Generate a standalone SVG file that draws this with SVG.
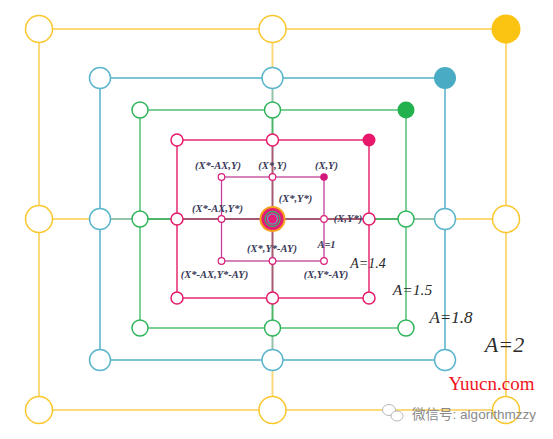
<svg xmlns="http://www.w3.org/2000/svg" width="553" height="439" viewBox="0 0 553 439">
<style>
.ye{stroke:#FDD97E;stroke-width:2;fill:none}
.bl{stroke:#5DB6CC;stroke-width:1.6;fill:none}
.gr{stroke:#7DCF98;stroke-width:2;fill:none}
.pk{stroke:#E8387A;stroke-width:1.6;fill:none}
.in{stroke:#C4409A;stroke-width:1.3;fill:none}
.br{stroke:#A65A72;stroke-width:2;fill:none}
.bg{stroke:#93C3A8;stroke-width:2;fill:none}
.gs{stroke:#4DB56A;stroke-width:2;fill:none}
.nY{fill:#fff;stroke:#F9C62C;stroke-width:1.5}
.nYf{fill:#FBC312}
.nB{fill:#fff;stroke:#5BB5CB;stroke-width:1.5}
.nBf{fill:#4AACC4}
.nG{fill:#fff;stroke:#2FB45A;stroke-width:1.5}
.nGf{fill:#22B14C}
.nP{fill:#fff;stroke:#E6196A;stroke-width:1.5}
.nPf{fill:#E8186A}
.nI{fill:#fff;stroke:#D81E78;stroke-width:1.2}
.nIf{fill:#D4187A}
.lb{font-family:"Liberation Serif",serif;font-style:italic;font-weight:bold;font-size:10.5px;fill:#3A3A58;text-anchor:middle}
.al{font-family:"Liberation Serif",serif;font-style:italic;fill:#2A2A2A;text-anchor:middle}
.ic{fill:#fff;stroke:#B8B8B8;stroke-width:1}
</style>
<g id="connectors">
<rect class="ye" x="39" y="29" width="467" height="381"/>
<rect class="bl" x="100" y="78" width="345" height="282"/>
<rect class="gr" x="140" y="110" width="266" height="218"/>
<rect class="pk" x="177" y="140" width="192" height="158"/>
<rect class="in" x="221.5" y="177" width="102.5" height="84"/>
<line class="ye" x1="272.5" y1="29" x2="272.5" y2="78"/>
<line class="bg" x1="272.5" y1="78" x2="272.5" y2="110"/>
<line class="gs" x1="272.5" y1="110" x2="272.5" y2="140"/>
<line class="br" x1="272.5" y1="140" x2="272.5" y2="298"/>
<line class="gs" x1="272.5" y1="298" x2="272.5" y2="328"/>
<line class="bg" x1="272.5" y1="328" x2="272.5" y2="360"/>
<line class="ye" x1="272.5" y1="360" x2="272.5" y2="410"/>
<line class="ye" x1="39" y1="219" x2="100" y2="219"/>
<line class="bg" x1="100" y1="219" x2="140" y2="219"/>
<line class="gs" x1="140" y1="219" x2="177" y2="219"/>
<line class="br" x1="177" y1="219" x2="369" y2="219"/>
<line class="gs" x1="369" y1="219" x2="406" y2="219"/>
<line class="bg" x1="406" y1="219" x2="445" y2="219"/>
<line class="ye" x1="445" y1="219" x2="506" y2="219"/>
</g>
<g id="yellow-nodes">
<circle id="y1" class="nY" cx="39" cy="29" r="13.5"/>
<circle id="y2" class="nY" cx="272.5" cy="29" r="13.5"/>
<circle id="y3" class="nYf" cx="506" cy="29" r="14.5"/>
<circle id="y4" class="nY" cx="39" cy="219" r="13.5"/>
<circle id="y5" class="nY" cx="506" cy="219" r="13.5"/>
<circle id="y6" class="nY" cx="39" cy="410" r="13.5"/>
<circle id="y7" class="nY" cx="272.5" cy="410" r="13.5"/>
<circle id="y8" class="nY" cx="506" cy="410" r="13.5"/>
</g>
<g id="blue-nodes">
<circle id="b1" class="nB" cx="100" cy="78" r="10.5"/>
<circle id="b2" class="nB" cx="272.5" cy="78" r="10.5"/>
<circle id="b3" class="nBf" cx="445" cy="78" r="11"/>
<circle id="b4" class="nB" cx="100" cy="219" r="10.5"/>
<circle id="b5" class="nB" cx="445" cy="219" r="10.5"/>
<circle id="b6" class="nB" cx="100" cy="360" r="10.5"/>
<circle id="b7" class="nB" cx="272.5" cy="360" r="10.5"/>
<circle id="b8" class="nB" cx="445" cy="360" r="10.5"/>
</g>
<g id="green-nodes">
<circle id="g1" class="nG" cx="140" cy="110" r="8"/>
<circle id="g2" class="nG" cx="272.5" cy="110" r="8"/>
<circle id="g3" class="nGf" cx="406" cy="110" r="8.5"/>
<circle id="g4" class="nG" cx="140" cy="219" r="8"/>
<circle id="g5" class="nG" cx="406" cy="219" r="8"/>
<circle id="g6" class="nG" cx="140" cy="328" r="8"/>
<circle id="g7" class="nG" cx="272.5" cy="328" r="8"/>
<circle id="g8" class="nG" cx="406" cy="328" r="8"/>
</g>
<g id="pink-nodes">
<circle id="p1" class="nP" cx="177" cy="140" r="6"/>
<circle id="p2" class="nP" cx="272.5" cy="140" r="6"/>
<circle id="p3" class="nPf" cx="369" cy="140" r="6.5"/>
<circle id="p4" class="nP" cx="177" cy="219" r="6"/>
<circle id="p5" class="nP" cx="369" cy="219" r="6"/>
<circle id="p6" class="nP" cx="177" cy="298" r="6"/>
<circle id="p7" class="nP" cx="272.5" cy="298" r="6"/>
<circle id="p8" class="nP" cx="369" cy="298" r="6"/>
</g>
<g id="inner-nodes">
<circle id="i1" class="nI" cx="221.5" cy="177" r="3.3"/>
<circle id="i2" class="nI" cx="272.5" cy="177" r="3.3"/>
<circle id="i3" class="nIf" cx="324" cy="177" r="3.8"/>
<circle id="i4" class="nI" cx="221.5" cy="219" r="3.3"/>
<circle id="i5" class="nI" cx="324" cy="219" r="3.3"/>
<circle id="i6" class="nI" cx="221.5" cy="261" r="3.3"/>
<circle id="i7" class="nI" cx="272.5" cy="261" r="3.3"/>
<circle id="i8" class="nI" cx="324" cy="261" r="3.3"/>
</g>
<g id="center-node">
<circle cx="272.5" cy="219" r="13" fill="#F7A31E"/>
<circle cx="272.5" cy="219" r="11" fill="#E61B78"/>
<circle cx="272.5" cy="219" r="7.5" fill="none" stroke="#3DAA6A" stroke-width="1.3"/>
<circle cx="272.5" cy="219" r="5" fill="none" stroke="#55AFC8" stroke-width="1.1"/>
</g>
<g id="labels">
<text class="lb" x="218" y="169">(X*-AX,Y)</text>
<text class="lb" x="272.5" y="169">(X*,Y)</text>
<text class="lb" x="326.5" y="169">(X,Y)</text>
<text class="lb" x="295.5" y="201.5">(X*,Y*)</text>
<text class="lb" x="217.5" y="211.5">(X*-AX,Y*)</text>
<text class="lb" x="348" y="221.5">(X,Y*)</text>
<text class="lb" x="272" y="251.5">(X*,Y*-AY)</text>
<text class="lb" x="326.5" y="247.5" font-weight="normal">A=1</text>
<text class="lb" x="214.5" y="277.5">(X*-AX,Y*-AY)</text>
<text class="lb" x="326" y="277.5">(X,Y*-AY)</text>
<text class="al" x="368" y="267.5" font-size="14">A=1.4</text>
<text class="al" x="412.5" y="295" font-size="15.5">A=1.5</text>
<text class="al" x="451" y="323" font-size="17">A=1.8</text>
<text class="al" x="504.5" y="352" font-size="22">A=2</text>
<text x="491.5" y="390" font-family="'Liberation Serif',serif" font-size="19" fill="#F0141E" text-anchor="middle">Yuucn.com</text>
<text x="474" y="419" font-family="'Liberation Sans','Noto Sans CJK SC',sans-serif" font-size="13.5" fill="#8A8A8A" text-anchor="middle">微信号: algorithmzzy</text>
</g>
<g id="wechat-icon">
<ellipse class="ic" cx="389" cy="410" rx="6.5" ry="5.5"/>
<ellipse class="ic" cx="397" cy="416" rx="6" ry="5"/>
</g>
</svg>
